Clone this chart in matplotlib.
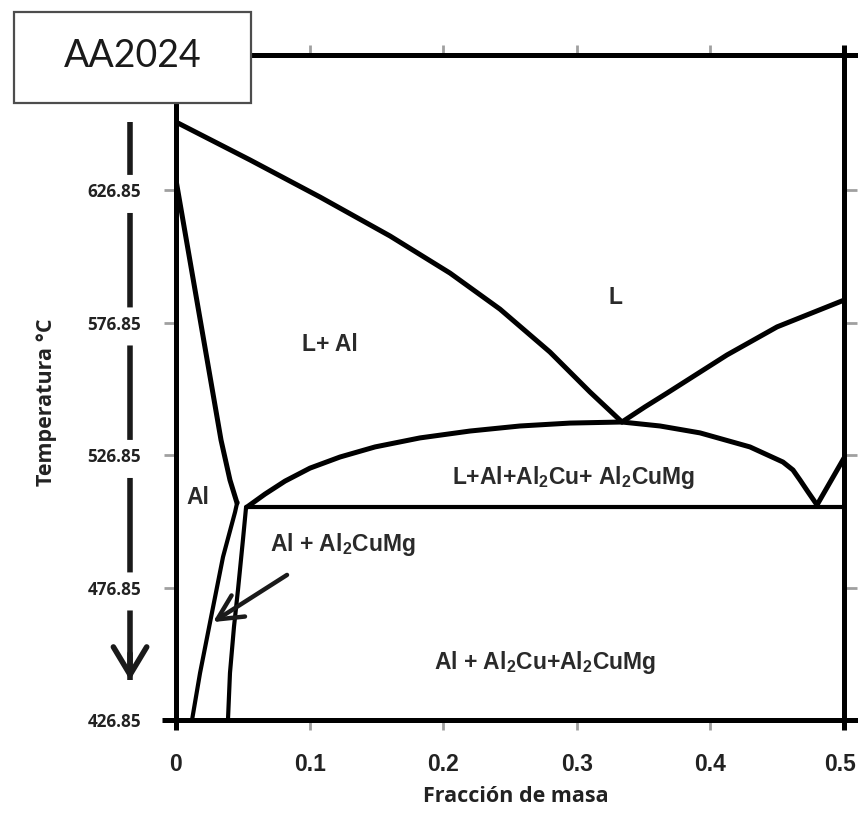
import matplotlib
matplotlib.use('Agg')
import matplotlib.pyplot as plt
from matplotlib.patches import Rectangle
from matplotlib.transforms import ScaledTranslation

plt.rcParams['mathtext.default'] = 'regular'
plt.rcParams['lines.scale_dashes'] = False

# ---------------- data (mass fraction, temperature in °C) ----------------
liquidus_al_x = [0.0, 0.0554, 0.1078, 0.1602, 0.2051, 0.2425, 0.2799, 0.3099, 0.3338]
liquidus_al_T = [652.5, 638.2, 624.2, 609.5, 595.5, 581.9, 565.7, 550.6, 539.3]

liquidus_right_x = [0.3338, 0.3510, 0.3675, 0.4124, 0.4499, 0.5]
liquidus_right_T = [539.3, 545.0, 550.2, 564.6, 575.2, 585.3]

solidus_al_x = [0.0, 0.0337, 0.0404, 0.0457]
solidus_al_T = [630.6, 532.5, 517.4, 508.7]

ternary_x = [0.0531, 0.0666, 0.0816, 0.1003, 0.1228, 0.1490, 0.1826, 0.2201,
             0.2575, 0.2949, 0.3338, 0.3623, 0.3922, 0.4296, 0.4543, 0.4618,
             0.4671, 0.4731, 0.4798]
ternary_T = [507.2, 512.1, 517.0, 521.9, 526.1, 529.9, 533.3, 535.9,
             537.8, 538.9, 539.3, 537.8, 535.2, 529.9, 524.2, 521.2,
             517.4, 512.9, 508.0]

right_rise_x = [0.4798, 0.5]
right_rise_T = [508.0, 525.7]

eutectic_x = [0.0531, 0.5]
eutectic_T = [507.2, 507.2]

solvus_al_x = [0.0457, 0.0442, 0.0352, 0.0254, 0.018, 0.012]
solvus_al_T = [508.7, 505.3, 488.4, 463.5, 444.6, 426.85]

solvus_mg_x = [0.0524, 0.0501, 0.0464, 0.0434, 0.0404, 0.0389]
solvus_mg_T = [506.9, 494.8, 476.0, 462.0, 444.6, 426.85]

xticks = [0, 0.1, 0.2, 0.3, 0.4, 0.5]
xticklabels = ['0', '0.1', '0.2', '0.3', '0.4', '0.5']
yticks = [426.85, 476.85, 526.85, 576.85, 626.85]
yticklabels = ['426.85', '476.85', '526.85', '576.85', '626.85']

region_labels = ['L', 'L+ Al', 'Al', 'L+Al+Al$_2$Cu+ Al$_2$CuMg',
                 'Al + Al$_2$CuMg', 'Al + Al$_2$Cu+Al$_2$CuMg']
region_x = [0.3286, 0.1153, 0.0165, 0.2972, 0.125, 0.2762]
region_T = [586.1, 568.4, 511.0, 518.2, 492.9, 448.4]

# pointer arrow to the Al + Al2CuMg field
pointer_from = (0.0831, 481.6)
pointer_to = (0.0277, 463.8)

# cooling arrow
cool_x = -0.0344
cool_T_start = 652.5
cool_T_head = 452.0
cool_T_end = 441.9

# ---------------- figure ----------------
W, H = 858, 815
fig = plt.figure(figsize=(W / 100, H / 100), dpi=100)
ax = fig.add_axes([176 / W, (H - 720) / H, 668 / W, 665 / H])
ax.set_xlim(0, 0.5)
ax.set_ylim(426.85, 677.8)

LW = 3.6
line_kw = dict(color='black', lw=LW, solid_joinstyle='round', solid_capstyle='round', zorder=3)
ax.plot(liquidus_al_x, liquidus_al_T, **line_kw)
ax.plot(liquidus_right_x, liquidus_right_T, **line_kw)
ax.plot(solidus_al_x, solidus_al_T, **line_kw)
ax.plot(ternary_x, ternary_T, **line_kw)
ax.plot(right_rise_x, right_rise_T, **line_kw)
ax.plot(eutectic_x, eutectic_T, color='black', lw=3.0, zorder=3)
ax.plot(solvus_al_x, solvus_al_T, color='black', lw=3.0, solid_joinstyle='round', zorder=3)
ax.plot(solvus_mg_x, solvus_mg_T, color='black', lw=3.0, solid_joinstyle='round', zorder=3)

for s in ax.spines.values():
    s.set_linewidth(LW)
    s.set_color('black')

# spine overhang to the right of the top frame line
ax.plot([1, 1.03], [1, 1], transform=ax.transAxes, color='black', lw=LW,
        clip_on=False, solid_capstyle='butt')

# region labels
for lab, x, t in zip(region_labels, region_x, region_T):
    ax.text(x, t, lab, ha='center', va='center', fontsize=16.5,
            family='Liberation Sans', weight='bold', color='#2a2a2a', zorder=4)

ax.annotate('', xy=pointer_to, xytext=pointer_from,
            arrowprops=dict(arrowstyle='->,head_length=0.9,head_width=0.45',
                            lw=3.2, color='#1a1a1a', shrinkA=0, shrinkB=0,
                            mutation_scale=20), zorder=4)

# cooling arrow: dashed shaft (gaps fall at the tick labels) + open head
ax.plot([cool_x, cool_x], [cool_T_start, cool_T_end], color='#1a1a1a', lw=4.0,
        linestyle=(29.9, (68.0, 27.4)), dash_capstyle='butt', clip_on=False, zorder=1)
ax.annotate('', xy=(cool_x, cool_T_end), xytext=(cool_x, cool_T_head),
            arrowprops=dict(arrowstyle='->,head_length=1.0,head_width=0.6',
                            lw=4.0, color='#1a1a1a', shrinkA=0, shrinkB=0,
                            mutation_scale=20),
            zorder=1, annotation_clip=False)

# ticks
ax.set_xticks(xticks)
ax.set_xticklabels(xticklabels, family='Liberation Sans', weight='bold',
                   fontsize=16.5, color='#222222')
ax.set_yticks(yticks)
ax.set_yticklabels(yticklabels, family='Open Sans', weight='bold',
                   fontsize=12.3, color='#222222')
ax.tick_params(axis='x', direction='out', length=7, width=2, color='#a0a0a0',
               top=True, bottom=True, pad=17)
ax.tick_params(axis='y', direction='out', length=9, width=2, color='#a0a0a0',
               left=True, right=True, pad=16)

xt = ax.xaxis.get_major_ticks()
for i in (0, len(xt) - 1):
    for ln in (xt[i].tick1line, xt[i].tick2line):
        ln.set_markeredgecolor('black')
        ln.set_markeredgewidth(LW)
# keep the last x tick label inside the canvas
last_lbl = xt[-1].label1
last_lbl.set_transform(last_lbl.get_transform() + ScaledTranslation(-4 / 100, 0, fig.dpi_scale_trans))

yt = ax.yaxis.get_major_ticks()
for ln in (yt[0].tick1line, yt[0].tick2line):
    ln.set_markeredgecolor('black')
    ln.set_markeredgewidth(LW)
    ln.set_markersize(10)

ax.set_xlabel('Fracción de masa', family='Open Sans', weight='bold',
              fontsize=15.5, color='#222222')
ax.xaxis.set_label_coords(0.509, -0.100)
ax.set_ylabel('Temperatura °C', family='Open Sans', weight='bold',
              fontsize=15.5, color='#222222')
ax.yaxis.set_label_coords(-0.178, 0.478)

# title box
fig.add_artist(Rectangle((14 / W, 1 - 103 / H), 237 / W, 91 / H,
                         transform=fig.transFigure, facecolor='white',
                         edgecolor='#4d4d4d', lw=1.6, zorder=5))
fig.text(133 / W, 1 - 67 / H, 'AA2024', ha='center', va='baseline',
         fontsize=27, family='Lato', color='#1a1a1a', zorder=6)

fig.savefig('out.png', dpi=100)
